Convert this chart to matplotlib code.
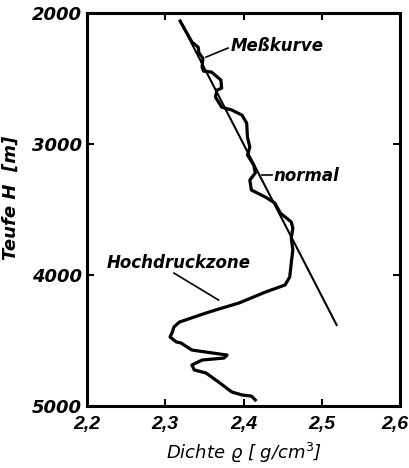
import matplotlib.pyplot as plt
import matplotlib.transforms as mtransforms

# Messkurve: Dichte [g/cm3] gegen Teufe [m]
dichte = [2.319, 2.334, 2.342, 2.343, 2.348, 2.347, 2.349, 2.359, 2.371, 2.372,
          2.366, 2.364, 2.372, 2.385, 2.398, 2.404, 2.405, 2.408, 2.405, 2.413,
          2.415, 2.408, 2.410, 2.428, 2.440, 2.447, 2.461, 2.463, 2.461, 2.463,
          2.461, 2.459, 2.453, 2.428, 2.394, 2.368, 2.352, 2.318, 2.311, 2.309,
          2.306, 2.314, 2.320, 2.334, 2.360, 2.379, 2.375, 2.347, 2.334, 2.337,
          2.352, 2.368, 2.385, 2.398, 2.410, 2.415]
teufe = [2061, 2221, 2260, 2305, 2344, 2412, 2443, 2450, 2511, 2573,
         2588, 2641, 2718, 2740, 2779, 2840, 2947, 3023, 3084, 3160,
         3221, 3275, 3351, 3405, 3450, 3527, 3595, 3641, 3718, 3809,
         3908, 4015, 4076, 4130, 4214, 4260, 4290, 4359, 4397, 4435,
         4473, 4511, 4519, 4573, 4595, 4611, 4634, 4649, 4687, 4725,
         4748, 4817, 4893, 4916, 4924, 4954]

# Normaltrend
normal_x = [2.319, 2.519]
normal_y = [2061, 4382]

x_ticks = [2.2, 2.3, 2.4, 2.5, 2.6]
x_labels = ['2,2', '2,3', '2,4', '2,5', '2,6']
y_ticks = [2000, 3000, 4000, 5000]

plt.rcParams['font.family'] = 'DejaVu Sans'
fig = plt.figure(figsize=(4.09, 4.68), dpi=100)
ax = fig.add_axes([0.213, 0.1325, 0.765, 0.8395])

ax.plot(normal_x, normal_y, color='black', lw=1.5)
ax.plot(dichte, teufe, color='black', lw=2.3, solid_joinstyle='round')

ax.set_xlim(2.2, 2.6)
ax.set_ylim(5000, 2000)
ax.set_xticks(x_ticks)
ax.set_xticklabels(x_labels)
ax.set_yticks(y_ticks)
ax.tick_params(direction='in', length=5, width=1.5, top=True, right=True,
               labelsize=13)
ax.tick_params(axis='x', pad=7)
for lab in ax.get_yticklabels():
    lab.set_fontweight('bold')
    lab.set_fontstyle('italic')
for lab in ax.get_xticklabels():
    lab.set_family('Liberation Sans')
    lab.set_fontweight('bold')
    lab.set_fontstyle('italic')
    lab.set_fontsize(14)
# letzte Beschriftung etwas nach links, damit sie nicht abgeschnitten wird
last = ax.get_xticklabels()[-1]
last.set_transform(last.get_transform() +
                   mtransforms.ScaledTranslation(-5 / 100, 0, fig.dpi_scale_trans))
for s in ax.spines.values():
    s.set_linewidth(2.2)

ax.set_xlabel('Dichte ϱ [ g/cm$^3$]', fontsize=13, style='italic', labelpad=6)
ax.set_ylabel('Teufe H  [m]', fontsize=13, fontweight='bold', style='italic')
ax.yaxis.set_label_coords(-0.215, 0.53)

txt = dict(fontsize=12, fontweight='bold', style='italic', va='center')
ax.text(2.384, 2252, 'Meßkurve', **txt)
ax.plot([2.352, 2.380], [2336, 2267], color='black', lw=1.2)
ax.text(2.438, 3244, 'normal', **txt)
ax.plot([2.423, 2.436], [3237, 3237], color='black', lw=1.2)
ax.text(2.225, 3908, 'Hochdruckzone', **txt)
ax.plot([2.311, 2.368], [3985, 4191], color='black', lw=1.2)

fig.savefig('out.png', dpi=100)
